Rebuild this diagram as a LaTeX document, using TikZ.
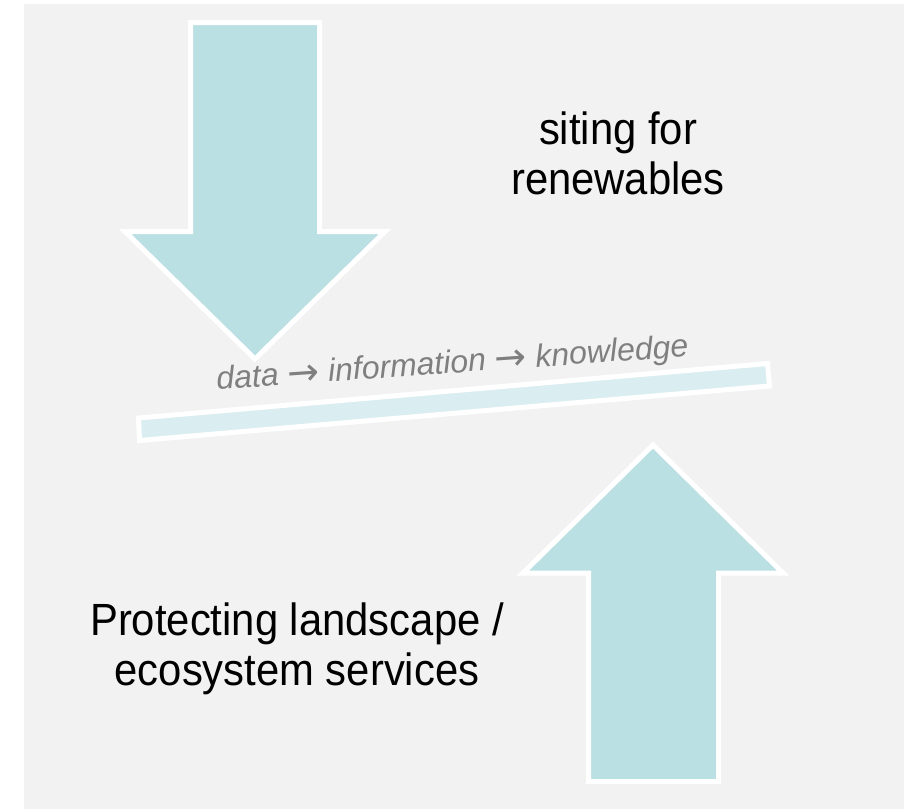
\documentclass[tikz,border=0pt]{standalone}
\usepackage{fontspec}
\setmainfont{Liberation Sans}
\newfontfamily\arrowfont{DejaVu Sans}
\definecolor{panel}{HTML}{F2F2F2}
\definecolor{arrowfill}{HTML}{BBE0E3}
\definecolor{barfill}{HTML}{DAEDF0}
\definecolor{flowtext}{HTML}{7F7F7F}
\newcommand{\flowarrow}{\raisebox{-1.5pt}{\arrowfont\fontsize{38}{38}\selectfont →}}
\begin{document}
\begin{tikzpicture}[x=1pt,y=-1pt,
  bigarrow/.style={fill=arrowfill,draw=white,line width=5pt,line join=miter},
  plank/.style={fill=barfill,draw=white,line width=5pt,line join=miter},
  label/.style={align=center,font=\fontsize{41.8}{45.4}\selectfont,text=black,
    inner sep=0pt,yscale=1.08,transform shape},
  flow/.style={font=\fontsize{32}{36}\selectfont\itshape,text=flowtext,inner sep=0pt}]
  \useasboundingbox (0,0) rectangle (904,809);
  % grey panel
  \fill[panel] (24,4) rectangle (904,809);
  % downward arrow
  \draw[bigarrow] (190.5,22.5) -- (319.5,22.5) -- (319.5,231.5) -- (385,231.5)
    -- (255,359) -- (125,231.5) -- (190.5,231.5) -- cycle;
  % upward arrow
  \draw[bigarrow] (588.5,781.5) -- (718.5,781.5) -- (718.5,573) -- (783,573)
    -- (653,445) -- (523,573) -- (588.5,573) -- cycle;
  % tilted plank
  \draw[plank] (138.5,418) -- (767.5,363.5) -- (769.5,386) -- (139.5,440.5) -- cycle;
  % labels
  \node[flow,anchor=base,rotate=4] (flowlabel) at (453,373)
    {data \flowarrow{} information \flowarrow{} knowledge};
  \node[label,anchor=base] (siting) at (618,194) {siting for\\renewables};
  \node[label,anchor=base] (protect) at (297,685) {Protecting landscape /\\ecosystem services};
\end{tikzpicture}
\end{document}
